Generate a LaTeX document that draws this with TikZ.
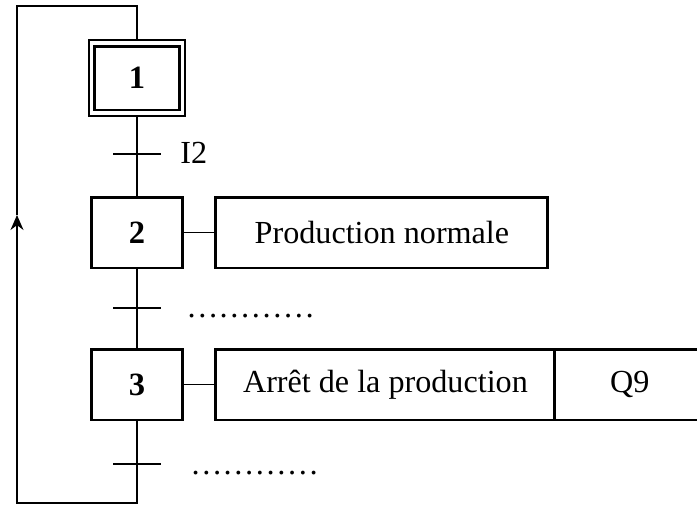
\documentclass[tikz,border=0pt]{standalone}
\usepackage{fontspec}
\setmainfont{Liberation Serif}
\usetikzlibrary{arrows.meta, positioning}

\begin{document}
\begin{tikzpicture}[x=0.02cm, y=-0.02cm,
    etape/.style={rectangle, draw, line width=1.7pt, minimum width=1.84cm, minimum height=1.42cm, font=\fontsize{18.5}{22}\selectfont\bfseries},
    cadre/.style={rectangle, draw, line width=1.2pt, minimum width=1.92cm, minimum height=1.52cm},
    action/.style={rectangle, draw, line width=1.7pt, minimum height=1.42cm, font=\fontsize{18.3}{22}\selectfont},
    transition/.style={rectangle, fill, minimum width=0.98cm, minimum height=1pt, inner sep=0pt, outer sep=0pt},
    recept/.style={anchor=base west, inner sep=0pt, font=\fontsize{18.3}{22}\selectfont},
    liaison/.style={line width=1pt},
    fleche/.style={-{Stealth[length=3mm, width=2.6mm]}, line width=1pt}]

    \useasboundingbox (0,0) rectangle (697,507);

    % Etapes
    \node[etape, minimum width=1.7cm, minimum height=1.28cm] (s1) at (137,78) {1};
    \node[cadre] (s1cadre) at (s1) {};
    \node[etape] (s2) at (137,232.5) {2};
    \node[etape] (s3) at (137,384.5) {3};

    % Actions
    \node[action, minimum width=6.64cm, right=0.6cm of s2] (a2) {Production normale};
    \node[action, minimum width=6.78cm, right=0.6cm of s3] (a3) {Arrêt de la production};
    \node[action, minimum width=3cm, right=-1.7pt of a3] (q9) {Q9};

    % Transitions
    \node[transition] (t1) at (137,154) {};
    \node[transition] (t2) at (137,308) {};
    \node[transition] (t3) at (137,464) {};
    \node[recept] (r1) at ([xshift=0.37cm, yshift=-0.2cm]t1.east) {I2};
    \node[recept] (r2) at ([xshift=0.49cm, yshift=-0.2cm]t2.east) {…………};
    \node[recept] (r3) at ([xshift=0.57cm, yshift=-0.2cm]t3.east) {…………};

    % Liaisons
    \draw[liaison] (s1cadre.south) -- (s2.north);
    \draw[liaison] (s2.south) -- (s3.north);
    \draw[liaison] (s2.east) -- (a2.west);
    \draw[liaison] (s3.east) -- (a3.west);

    % Retour vers l'etape initiale
    \coordinate (bas) at (17,503);
    \coordinate (pointe) at (17,215);
    \coordinate (haut) at (17,6);
    \draw[fleche] (s3.south) |- (bas) -- (pointe);
    \draw[liaison] (pointe) -- (haut) -| (s1cadre.north);

\end{tikzpicture}
\end{document}
